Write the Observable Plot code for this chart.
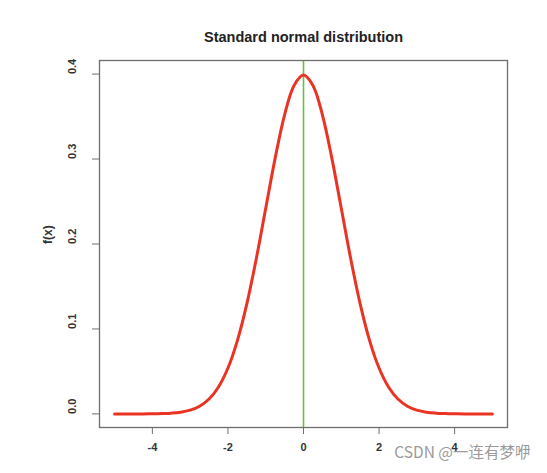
<!DOCTYPE html>
<html>
<head>
<meta charset="utf-8">
<script src="https://cdn.jsdelivr.net/npm/d3@7"></script>
<script src="https://cdn.jsdelivr.net/npm/@observablehq/plot@0.6"></script>
<style>
  html, body { margin: 0; padding: 0; background: #fff; }
  #chart svg { display: block; }
</style>
</head>
<body>
<div id="chart"></div>
<script>
const xValues = [-5, -4.75, -4.5, -4.25, -4, -3.75, -3.5, -3.25, -3, -2.75, -2.5, -2.25, -2, -1.75, -1.5, -1.25, -1, -0.75, -0.5, -0.25,
  0, 0.25, 0.5, 0.75, 1, 1.25, 1.5, 1.75, 2, 2.25, 2.5, 2.75, 3, 3.25, 3.5, 3.75, 4, 4.25, 4.5, 4.75, 5];
const fxValues = [0, 0, 0, 0, 0.0001, 0.0004, 0.0009, 0.002, 0.0044, 0.0091, 0.0175, 0.0317, 0.054, 0.0863, 0.1295, 0.1826, 0.242, 0.3011, 0.3521, 0.3867,
  0.3989, 0.3867, 0.3521, 0.3011, 0.242, 0.1826, 0.1295, 0.0863, 0.054, 0.0317, 0.0175, 0.0091, 0.0044, 0.002, 0.0009, 0.0004, 0.0001, 0, 0, 0, 0];
const xTicks = [-4, -2, 0, 2, 4];
const yTicks = [0.0, 0.1, 0.2, 0.3, 0.4];
const meanLine = [0];
const titleText = "Standard normal distribution";
const yLabel = "f(x)";
const watermark = "CSDN @一连有梦咿";

const curve = xValues.map((x, i) => ({x, y: fxValues[i]}));

const font = "'Liberation Sans', Arial, sans-serif";

const chart = Plot.plot({
  width: 547,
  height: 473,
  marginLeft: 99,
  marginRight: 40,
  marginTop: 60,
  marginBottom: 46,
  style: {fontFamily: font, background: "#fff", overflow: "visible"},
  x: {domain: [-5.4, 5.4]},
  y: {domain: [-0.016, 0.416]},
  marks: [
    Plot.ruleX(meanLine, {stroke: "#6bbf45", strokeWidth: 1.6}),
    Plot.line(curve, {x: "x", y: "y", stroke: "#ea3323", strokeWidth: 3, curve: "catmull-rom"}),
    Plot.frame({stroke: "#6e6e6e", strokeWidth: 1.3}),
    Plot.axisX({ticks: xTicks, tickSize: 7, tickFormat: d => d.toString(), label: null, stroke: "#6e6e6e",
      fontSize: 11, fontWeight: "bold", fill: "#333", tickPadding: 9}),
    Plot.axisY({ticks: yTicks, tickSize: 7, tickFormat: () => "", label: null, stroke: "#6e6e6e"}),
    Plot.text(yTicks, {y: d => d, text: d => d.toFixed(1), frameAnchor: "left", dx: -27, rotate: -90,
      fontSize: 11, fontWeight: "bold", fill: "#333"}),
    Plot.text([yLabel], {frameAnchor: "left", dx: -51, rotate: -90, fontSize: 12, fontWeight: "bold", fill: "#333"}),
    Plot.text([titleText], {frameAnchor: "top", dy: -29, fontSize: 14.5, fontWeight: "bold", fill: "#222"}),
    Plot.text([watermark], {frameAnchor: "bottom-right", dx: 23, dy: 30, textAnchor: "end",
      fontSize: 15.5, fill: "#9a9a9a", fontFamily: "'Noto Sans CJK SC', 'Noto Sans', sans-serif"})
  ]
});
document.getElementById("chart").appendChild(chart);
</script>
</body>
</html>
